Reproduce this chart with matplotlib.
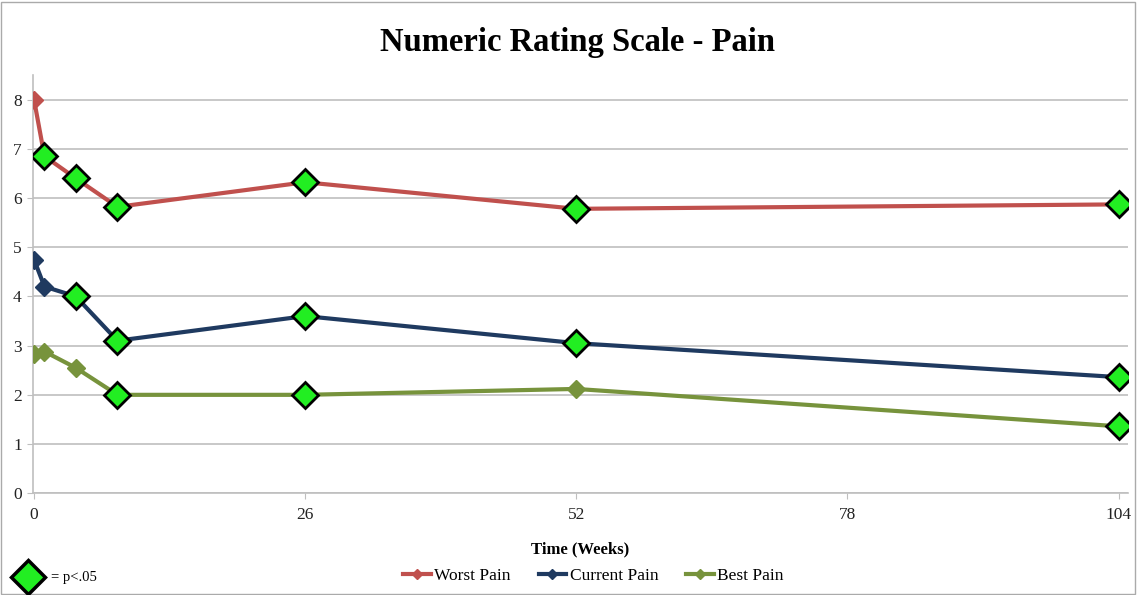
import matplotlib
matplotlib.use("Agg")
import matplotlib.pyplot as plt
from matplotlib.lines import Line2D
from matplotlib.patches import Rectangle

weeks = [0, 1, 4, 8, 26, 52, 104]
worst = [8.0, 6.85, 6.4, 5.82, 6.32, 5.78, 5.87]
current = [4.75, 4.2, 4.0, 3.1, 3.6, 3.05, 2.36]
best = [2.82, 2.88, 2.55, 2.0, 2.0, 2.12, 1.36]
worst_sig = [False, True, True, True, True, True, True]
current_sig = [False, False, True, True, True, True, True]
best_sig = [False, False, False, True, True, False, True]
xticks = [0, 26, 52, 78, 104]
yticks = [0, 1, 2, 3, 4, 5, 6, 7, 8]

series = [
    ("Worst Pain", worst, worst_sig, "#C0504D"),
    ("Current Pain", current, current_sig, "#1F3A60"),
    ("Best Pain", best, best_sig, "#77933C"),
]

plt.rcParams['font.family'] = ['Liberation Serif', 'DejaVu Serif']

fig = plt.figure(figsize=(11.37, 5.95), dpi=100)
ax = fig.add_axes([0.029, 0.171, 0.963, 0.703])

handles = []
for name, vals, sig, col in series:
    ax.plot(weeks, vals, color=col, lw=3, zorder=3, solid_joinstyle='round')
    xs = [w for w, s in zip(weeks, sig) if not s]
    ys = [v for v, s in zip(vals, sig) if not s]
    ax.plot(xs, ys, ls='none', marker='D', ms=9, color=col, zorder=4)
    xs = [w for w, s in zip(weeks, sig) if s]
    ys = [v for v, s in zip(vals, sig) if s]
    ax.plot(xs, ys, ls='none', marker='D', ms=13, mfc='#22EE22', mec='black', mew=2, zorder=5)
    handles.append(Line2D([0], [0], color=col, lw=3, marker='D', ms=5, label=name))

ax.set_xlim(-0.1, 104.9)
ax.set_ylim(0, 8.5)
ax.set_xticks(xticks)
ax.set_yticks(yticks)
ax.grid(axis='y', color='#BFBFBF', lw=1.2)
ax.set_axisbelow(True)
for s in ['top', 'right']:
    ax.spines[s].set_visible(False)
for s in ['left', 'bottom']:
    ax.spines[s].set_color('#BFBFBF')
    ax.spines[s].set_linewidth(1.2)
ax.tick_params(axis='both', colors='#BFBFBF', labelcolor='#222222', labelsize=12.5, length=4)
ax.tick_params(axis='x', pad=6)
ax.tick_params(axis='y', pad=4)

fig.suptitle("Numeric Rating Scale - Pain", x=0.508, y=0.955, fontsize=23.5, fontweight='bold')
fig.text(0.51, 0.076, "Time (Weeks)", ha='center', va='center', fontsize=12, fontweight='bold')
fig.legend(handles=handles, loc='center', bbox_to_anchor=(0.522, 0.032), ncol=3, frameon=False,
           fontsize=12.5, handlelength=1.6, handletextpad=0.2, columnspacing=1.6)

fig.lines.append(Line2D([0.025], [0.03], transform=fig.transFigure, ls='none', marker='D', ms=17,
                        mfc='#22EE22', mec='black', mew=2.5))
fig.text(0.045, 0.03, "= p<.05", ha='left', va='center', fontsize=10.5)

fig.patches.append(Rectangle((0.001, 0.002), 0.997, 0.995, transform=fig.transFigure,
                             fill=False, ec='#AAAAAA', lw=1))

fig.savefig("out.png", dpi=100)
